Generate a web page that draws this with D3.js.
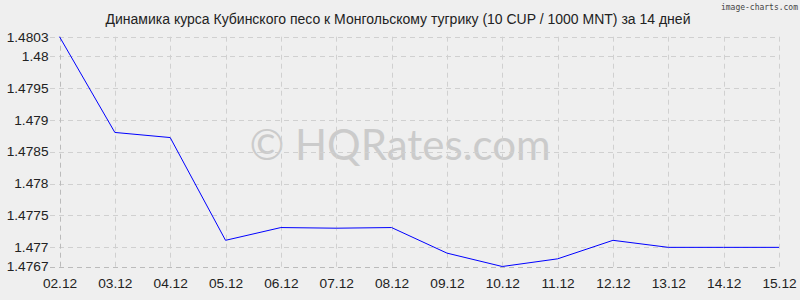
<!DOCTYPE html>
<html><head><meta charset="utf-8">
<script src="https://cdn.jsdelivr.net/npm/d3@7"></script>
<style>body{margin:0;background:#efefef;}svg{display:block;}</style>
</head><body>
<script>
const dates = ["02.12","03.12","04.12","05.12","06.12","07.12","08.12","09.12","10.12","11.12","12.12","13.12","14.12","15.12"];
const rates = [1.4803,1.4788,1.47872,1.47711,1.47731,1.4773,1.47731,1.47691,1.4767,1.47682,1.47711,1.4770,1.4770,1.4770];
const yTicks = [1.4767,1.477,1.4775,1.478,1.4785,1.479,1.4795,1.48,1.4803];
const title = "Динамика курса Кубинского песо к Монгольскому тугрику (10 CUP / 1000 MNT) за 14 дней";

const W=800,H=300;
const svg=d3.select("body").append("svg").attr("width",W).attr("height",H);
svg.append("rect").attr("width",W).attr("height",H).attr("fill","#efefef");
const x=d3.scalePoint().domain(dates).range([59.5,779]);
const y=d3.scaleLinear().domain([1.4767,1.4803]).range([266.5,36.7]);
const font="'Liberation Sans', Arial, sans-serif";

// watermark
svg.append("text").attr("x",400).attr("y",160).attr("text-anchor","middle")
  .attr("font-family","Lato, 'Open Sans', sans-serif").attr("font-size",42).attr("fill","#cbcbcb")
  .text("© HQRates.com");

// grid
const g=svg.append("g");
g.selectAll(".hg").data(yTicks).join("line")
  .attr("x1",50).attr("x2",779).attr("y1",d=>Math.round(y(d))+0.5).attr("y2",d=>Math.round(y(d))+0.5)
  .attr("stroke",d=>d===1.4767?"#bbb":"#d0d0d0").attr("stroke-dasharray","5,4");
g.selectAll(".vg").data(dates).join("line")
  .attr("x1",d=>Math.round(x(d))+0.5).attr("x2",d=>Math.round(x(d))+0.5).attr("y1",36.7).attr("y2",270)
  .attr("stroke",(d,i)=>i===0?"#bbb":"#d0d0d0").attr("stroke-dasharray","5,4");

// axes labels
const ya=d3.axisLeft(y).tickValues(yTicks).tickFormat(d=>String(+d.toFixed(4))).tickSize(0).tickPadding(11);
const yg=svg.append("g").attr("transform","translate(59.5,0)").call(ya);
const xa=d3.axisBottom(x).tickSize(0).tickPadding(12);
const xg=svg.append("g").attr("transform","translate(0,266.5)").call(xa);
[yg,xg].forEach(a=>{a.select(".domain").remove();a.selectAll("text").attr("font-family",font).attr("font-size",13.7).attr("fill","#222");});

// line
svg.append("path").datum(rates)
  .attr("d",d3.line().x((d,i)=>x(dates[i])).y(d=>y(d)))
  .attr("fill","none").attr("stroke","#0000ff").attr("stroke-width",1);

// title
svg.append("text").attr("x",398).attr("y",24).attr("text-anchor","middle")
  .attr("font-family",font).attr("font-size",14).attr("fill","#222").text(title);
svg.append("text").attr("x",798).attr("y",10).attr("text-anchor","end")
  .attr("font-family","'DejaVu Sans Mono', monospace").attr("font-size",8).attr("fill","#444").text("image-charts.com");
</script>
</body></html>
